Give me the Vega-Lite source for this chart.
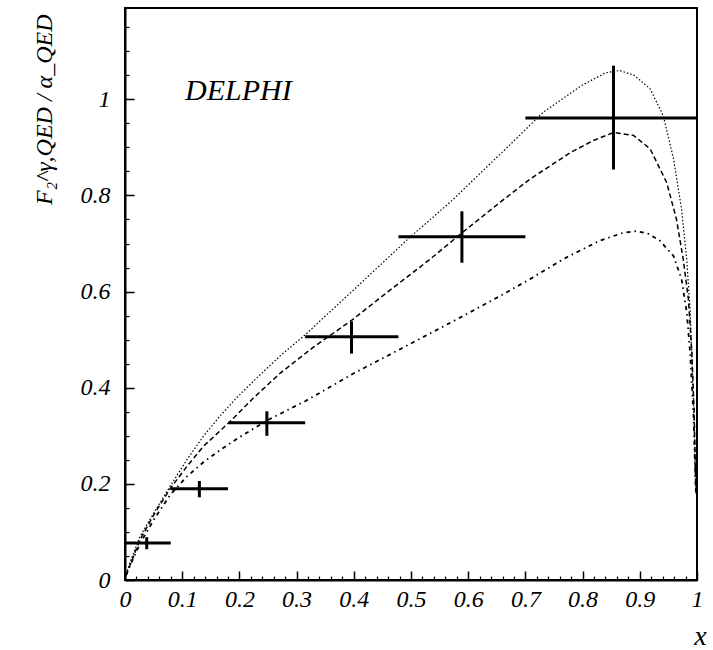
{
  "$schema": "https://vega.github.io/schema/vega-lite/v6.json",
  "width": 572,
  "height": 572,
  "autosize": {"type": "none"},
  "padding": {"left": 125, "top": 8, "right": 16, "bottom": 70},
  "background": "white",
  "config": {
    "view": {"stroke": "black", "strokeWidth": 2},
    "font": "Liberation Serif"
  },
  "resolve": {"axis": {"x": "independent", "y": "independent"}},
  "datasets": {
    "curves": [
      {"model": "dotted", "x": 0.002, "y": 0.012}, {"model": "dotted", "x": 0.01, "y": 0.04}, {"model": "dotted", "x": 0.026, "y": 0.09}, {"model": "dotted", "x": 0.05, "y": 0.139}, {"model": "dotted", "x": 0.079, "y": 0.195}, {"model": "dotted", "x": 0.108, "y": 0.25}, {"model": "dotted", "x": 0.137, "y": 0.299}, {"model": "dotted", "x": 0.166, "y": 0.341}, {"model": "dotted", "x": 0.195, "y": 0.379}, {"model": "dotted", "x": 0.23, "y": 0.42}, {"model": "dotted", "x": 0.271, "y": 0.466}, {"model": "dotted", "x": 0.315, "y": 0.51}, {"model": "dotted", "x": 0.36, "y": 0.56}, {"model": "dotted", "x": 0.41, "y": 0.615}, {"model": "dotted", "x": 0.455, "y": 0.665}, {"model": "dotted", "x": 0.498, "y": 0.713}, {"model": "dotted", "x": 0.533, "y": 0.749}, {"model": "dotted", "x": 0.574, "y": 0.792}, {"model": "dotted", "x": 0.62, "y": 0.845}, {"model": "dotted", "x": 0.67, "y": 0.902}, {"model": "dotted", "x": 0.731, "y": 0.973}, {"model": "dotted", "x": 0.8, "y": 1.03}, {"model": "dotted", "x": 0.84, "y": 1.055}, {"model": "dotted", "x": 0.865, "y": 1.06}, {"model": "dotted", "x": 0.89, "y": 1.05}, {"model": "dotted", "x": 0.918, "y": 1.022}, {"model": "dotted", "x": 0.941, "y": 0.966}, {"model": "dotted", "x": 0.959, "y": 0.876}, {"model": "dotted", "x": 0.973, "y": 0.772}, {"model": "dotted", "x": 0.982, "y": 0.667}, {"model": "dotted", "x": 0.988, "y": 0.563}, {"model": "dotted", "x": 0.991, "y": 0.466}, {"model": "dotted", "x": 0.995, "y": 0.33}, {"model": "dotted", "x": 0.998, "y": 0.18},
      {"model": "dashed", "x": 0.002, "y": 0.01}, {"model": "dashed", "x": 0.01, "y": 0.035}, {"model": "dashed", "x": 0.026, "y": 0.083}, {"model": "dashed", "x": 0.05, "y": 0.135}, {"model": "dashed", "x": 0.079, "y": 0.19}, {"model": "dashed", "x": 0.108, "y": 0.236}, {"model": "dashed", "x": 0.137, "y": 0.278}, {"model": "dashed", "x": 0.184, "y": 0.33}, {"model": "dashed", "x": 0.224, "y": 0.378}, {"model": "dashed", "x": 0.271, "y": 0.43}, {"model": "dashed", "x": 0.33, "y": 0.485}, {"model": "dashed", "x": 0.396, "y": 0.54}, {"model": "dashed", "x": 0.46, "y": 0.6}, {"model": "dashed", "x": 0.533, "y": 0.667}, {"model": "dashed", "x": 0.592, "y": 0.725}, {"model": "dashed", "x": 0.656, "y": 0.786}, {"model": "dashed", "x": 0.708, "y": 0.834}, {"model": "dashed", "x": 0.78, "y": 0.89}, {"model": "dashed", "x": 0.82, "y": 0.915}, {"model": "dashed", "x": 0.854, "y": 0.931}, {"model": "dashed", "x": 0.889, "y": 0.925}, {"model": "dashed", "x": 0.918, "y": 0.897}, {"model": "dashed", "x": 0.947, "y": 0.827}, {"model": "dashed", "x": 0.964, "y": 0.751}, {"model": "dashed", "x": 0.976, "y": 0.667}, {"model": "dashed", "x": 0.985, "y": 0.584}, {"model": "dashed", "x": 0.991, "y": 0.473}, {"model": "dashed", "x": 0.995, "y": 0.35}, {"model": "dashed", "x": 0.998, "y": 0.18},
      {"model": "dashdot", "x": 0.002, "y": 0.01}, {"model": "dashdot", "x": 0.01, "y": 0.033}, {"model": "dashdot", "x": 0.026, "y": 0.075}, {"model": "dashdot", "x": 0.05, "y": 0.125}, {"model": "dashdot", "x": 0.079, "y": 0.177}, {"model": "dashdot", "x": 0.108, "y": 0.215}, {"model": "dashdot", "x": 0.137, "y": 0.245}, {"model": "dashdot", "x": 0.166, "y": 0.27}, {"model": "dashdot", "x": 0.2, "y": 0.297}, {"model": "dashdot", "x": 0.25, "y": 0.333}, {"model": "dashdot", "x": 0.315, "y": 0.372}, {"model": "dashdot", "x": 0.4, "y": 0.43}, {"model": "dashdot", "x": 0.495, "y": 0.489}, {"model": "dashdot", "x": 0.586, "y": 0.546}, {"model": "dashdot", "x": 0.656, "y": 0.591}, {"model": "dashdot", "x": 0.708, "y": 0.626}, {"model": "dashdot", "x": 0.77, "y": 0.67}, {"model": "dashdot", "x": 0.83, "y": 0.706}, {"model": "dashdot", "x": 0.87, "y": 0.722}, {"model": "dashdot", "x": 0.895, "y": 0.726}, {"model": "dashdot", "x": 0.915, "y": 0.72}, {"model": "dashdot", "x": 0.935, "y": 0.706}, {"model": "dashdot", "x": 0.959, "y": 0.674}, {"model": "dashdot", "x": 0.973, "y": 0.626}, {"model": "dashdot", "x": 0.982, "y": 0.557}, {"model": "dashdot", "x": 0.988, "y": 0.473}, {"model": "dashdot", "x": 0.994, "y": 0.34}, {"model": "dashdot", "x": 0.998, "y": 0.18}
    ],
    "points": [
      {"x": 0.038, "xlo": 0.0, "xhi": 0.08, "y": 0.077, "ylo": 0.064, "yhi": 0.089},
      {"x": 0.13, "xlo": 0.08, "xhi": 0.18, "y": 0.19, "ylo": 0.172, "yhi": 0.206},
      {"x": 0.248, "xlo": 0.181, "xhi": 0.315, "y": 0.327, "ylo": 0.3, "yhi": 0.351},
      {"x": 0.396, "xlo": 0.315, "xhi": 0.478, "y": 0.506, "ylo": 0.471, "yhi": 0.538},
      {"x": 0.589, "xlo": 0.478, "xhi": 0.7, "y": 0.714, "ylo": 0.66, "yhi": 0.767},
      {"x": 0.854, "xlo": 0.7, "xhi": 1.0, "y": 0.961, "ylo": 0.854, "yhi": 1.07}
    ]
  },
  "layer": [
    {
      "data": {"name": "curves"},
      "mark": {"type": "line", "color": "black", "clip": true},
      "encoding": {
        "x": {
          "field": "x", "type": "quantitative",
          "scale": {"domain": [0, 1], "nice": false, "zero": false},
          "axis": {
            "orient": "bottom",
            "title": "x",
            "titleFont": "Liberation Serif", "titleFontStyle": "italic", "titleFontWeight": "normal", "titleFontSize": 28, "titleColor": "black",
            "titleAnchor": "end", "titleAlign": "center", "titleX": 575, "titleY": 64, "titleBaseline": "alphabetic",
            "values": [0, 0.1, 0.2, 0.3, 0.4, 0.5, 0.6, 0.7, 0.8, 0.9, 1],
            "labelExpr": "toString(round(datum.value*10)/10)",
            "labelFont": "Liberation Serif", "labelFontStyle": "italic", "labelFontSize": 24, "labelColor": "black",
            "labelOverlap": false, "labelFlush": false, "labelBound": false, "labelPadding": 16,
            "tickSize": -9, "tickColor": "black", "tickWidth": 1.5,
            "domainColor": "black", "domainWidth": 2, "grid": false
          }
        },
        "y": {
          "field": "y", "type": "quantitative",
          "scale": {"domain": [0, 1.19], "nice": false, "zero": false},
          "axis": {
            "orient": "left",
            "title": "F₂^γ,QED / α_QED",
            "titleFont": "Liberation Serif", "titleFontStyle": "italic", "titleFontWeight": "normal", "titleFontSize": 24, "titleColor": "black",
            "titleAngle": -90, "titleAnchor": "end", "titleAlign": "right", "titleX": -74, "titleY": 6, "titleBaseline": "alphabetic",
            "values": [0, 0.2, 0.4, 0.6, 0.8, 1],
            "labelExpr": "toString(round(datum.value*5)/5)",
            "labelFont": "Liberation Serif", "labelFontStyle": "italic", "labelFontSize": 24, "labelColor": "black",
            "labelOverlap": false, "labelFlush": false, "labelBound": false, "labelPadding": 24,
            "tickSize": -9, "tickColor": "black", "tickWidth": 1.5,
            "domainColor": "black", "domainWidth": 2, "grid": false
          }
        },
        "detail": {"field": "model", "type": "nominal"},
        "strokeDash": {"field": "model", "type": "nominal", "scale": {"domain": ["dotted", "dashed", "dashdot"], "range": [[1.5, 2], [5, 3], [4, 4, 1.5, 4]]}, "legend": null},
        "strokeWidth": {"field": "model", "type": "nominal", "scale": {"domain": ["dotted", "dashed", "dashdot"], "range": [1.2, 1.8, 1.6]}, "legend": null}
      }
    },
    {
      "data": {"name": "points"},
      "mark": {"type": "rule", "color": "black", "strokeWidth": 3},
      "encoding": {
        "x": {
          "field": "xlo", "type": "quantitative",
          "axis": {
            "orient": "bottom", "title": null, "labels": false, "domain": false, "grid": false,
            "values": [0.02, 0.04, 0.06, 0.08, 0.12, 0.14, 0.16, 0.18, 0.22, 0.24, 0.26, 0.28, 0.32, 0.34, 0.36, 0.38, 0.42, 0.44, 0.46, 0.48, 0.52, 0.54, 0.56, 0.58, 0.62, 0.64, 0.66, 0.68, 0.72, 0.74, 0.76, 0.78, 0.82, 0.84, 0.86, 0.88, 0.92, 0.94, 0.96, 0.98],
            "tickSize": -4, "tickColor": "black", "tickWidth": 1.2
          }
        },
        "x2": {"field": "xhi"},
        "y": {
          "field": "y", "type": "quantitative",
          "axis": {
            "orient": "left", "title": null, "labels": false, "domain": false, "grid": false,
            "values": [0.05, 0.1, 0.15, 0.25, 0.3, 0.35, 0.45, 0.5, 0.55, 0.65, 0.7, 0.75, 0.85, 0.9, 0.95, 1.05, 1.1, 1.15],
            "tickSize": -4, "tickColor": "black", "tickWidth": 1.2
          }
        }
      }
    },
    {
      "data": {"name": "points"},
      "mark": {"type": "rule", "color": "black", "strokeWidth": 3},
      "encoding": {
        "x": {"field": "x", "type": "quantitative", "axis": null},
        "y": {"field": "ylo", "type": "quantitative", "axis": null},
        "y2": {"field": "yhi"}
      }
    },
    {
      "data": {"values": [{"label": "DELPHI"}]},
      "mark": {"type": "text", "font": "Liberation Serif", "fontStyle": "italic", "fontSize": 30, "align": "left", "baseline": "alphabetic", "color": "black"},
      "encoding": {
        "x": {"datum": 0.105, "type": "quantitative", "axis": null},
        "y": {"datum": 0.998, "type": "quantitative", "axis": null},
        "text": {"field": "label", "type": "nominal"}
      }
    }
  ]
}
